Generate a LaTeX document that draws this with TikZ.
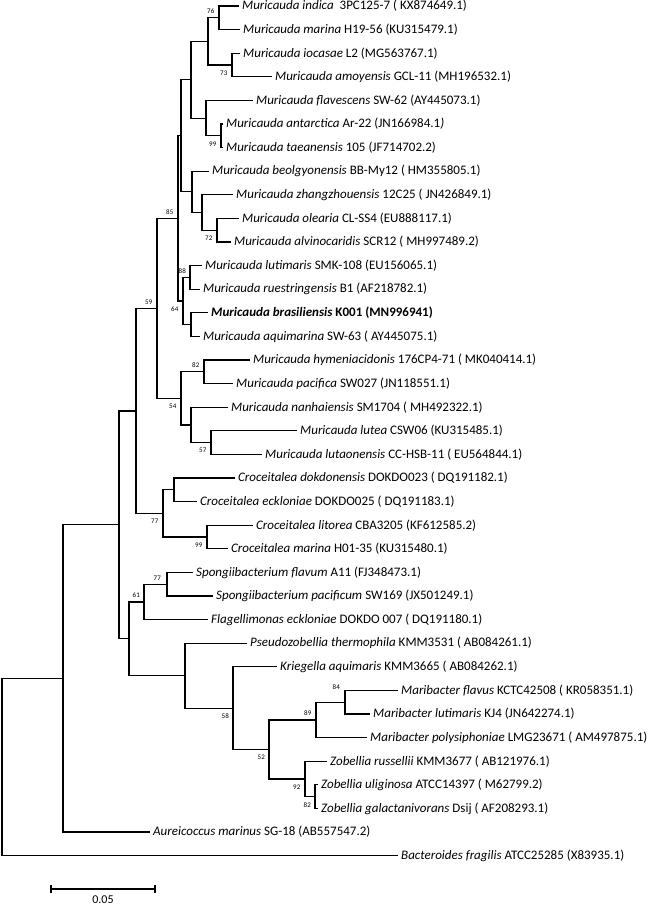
\documentclass[tikz,border=0pt]{standalone}
\usepackage{fontspec}
\setmainfont{Carlito}
\usetikzlibrary{positioning}

\begin{document}
\begin{tikzpicture}[x = 1pt, y = -1pt,
    branch/.style = {line width = 1.2pt},
    taxon/.style = {anchor = west, inner sep = 3pt, font = \fontsize{13}{15}\selectfont},
    boot/.style = {inner sep = 1pt, font = \fontsize{7}{8}\selectfont}]

      \useasboundingbox (0, 0) rectangle (649, 905);

      % taxa, one row every 23.6
      \node[taxon] (t1) at (239, 6) {\textit{Muricauda indica}\ \ 3PC125-7 ( KX874649.1)};
      \node[taxon] (t2) at (240, 29.6) {\textit{Muricauda marina} H19-56 (KU315479.1)};
      \node[taxon] (t3) at (240, 53.2) {\textit{Muricauda iocasae} L2 (MG563767.1)};
      \node[taxon] (t4) at (272, 76.8) {\textit{Muricauda amoyensis} GCL-11 (MH196532.1)};
      \node[taxon] (t5) at (253, 100.4) {\textit{Muricauda flavescens} SW-62 (AY445073.1)};
      \node[taxon] (t6) at (223, 124) {\textit{Muricauda antarctica} Ar-22 (JN166984.1\textit{)}};
      \node[taxon] (t7) at (223, 147.6) {\textit{Muricauda taeanensis} 105 (JF714702.2)};
      \node[taxon] (t8) at (209, 171.2) {\textit{Muricauda beolgyonensis} BB-My12 ( HM355805.1)};
      \node[taxon] (t9) at (233, 194.8) {\textit{Muricauda zhangzhouensis} 12C25 ( JN426849.1)};
      \node[taxon] (t10) at (239, 218.4) {\textit{Muricauda olearia} CL-SS4 (EU888117.1)};
      \node[taxon] (t11) at (231, 242) {\textit{Muricauda alvinocaridis} SCR12 ( MH997489.2)};
      \node[taxon] (t12) at (202, 265.6) {\textit{Muricauda lutimaris} SMK-108 (EU156065.1)};
      \node[taxon] (t13) at (200, 289.2) {\textit{Muricauda ruestringensis} B1 (AF218782.1)};
      \node[taxon] (t14) at (208, 312.8) {\textbf{\textit{Muricauda brasiliensis} K001 (MN996941)}};
      \node[taxon] (t15) at (200, 336.4) {\textit{Muricauda aquimarina} SW-63 ( AY445075.1)};
      \node[taxon] (t16) at (250, 360) {\textit{Muricauda hymeniacidonis} 176CP4-71 ( MK040414.1)};
      \node[taxon] (t17) at (233, 383.6) {\textit{Muricauda pacifica} SW027 (JN118551.1)};
      \node[taxon] (t18) at (228, 407.2) {\textit{Muricauda nanhaiensis} SM1704 ( MH492322.1)};
      \node[taxon] (t19) at (297, 430.8) {\textit{Muricauda lutea} CSW06 (KU315485.1)};
      \node[taxon] (t20) at (262, 454.4) {\textit{Muricauda lutaonensis} CC-HSB-11 ( EU564844.1)};
      \node[taxon] (t21) at (235, 478) {\textit{Croceitalea dokdonensis} DOKDO023 ( DQ191182.1)};
      \node[taxon] (t22) at (197, 501.6) {\textit{Croceitalea eckloniae} DOKDO025 ( DQ191183.1)};
      \node[taxon] (t23) at (253, 525.2) {\textit{Croceitalea litorea} CBA3205 (KF612585.2)};
      \node[taxon] (t24) at (228, 548.8) {\textit{Croceitalea marina} H01-35 (KU315480.1)};
      \node[taxon] (t25) at (193, 572.4) {\textit{Spongiibacterium flavum} A11 (FJ348473.1)};
      \node[taxon] (t26) at (213, 596) {\textit{Spongiibacterium pacificum} SW169 (JX501249.1)};
      \node[taxon] (t27) at (208, 619.6) {\textit{Flagellimonas eckloniae} DOKDO 007 ( DQ191180.1)};
      \node[taxon] (t28) at (247, 643.2) {\textit{Pseudozobellia thermophila} KMM3531 ( AB084261.1)};
      \node[taxon] (t29) at (277, 666.8) {\textit{Kriegella aquimaris} KMM3665 ( AB084262.1)};
      \node[taxon] (t30) at (398, 690.4) {\textit{Maribacter flavus} KCTC42508 ( KR058351.1)};
      \node[taxon] (t31) at (370, 714) {\textit{Maribacter lutimaris} KJ4 (JN642274.1)};
      \node[taxon] (t32) at (367, 737.6) {\textit{Maribacter polysiphoniae} LMG23671 ( AM497875.1)};
      \node[taxon] (t33) at (327, 761.2) {\textit{Zobellia russellii} KMM3677 ( AB121976.1)};
      \node[taxon] (t34) at (318, 784.8) {\textit{Zobellia uliginosa} ATCC14397 ( M62799.2)};
      \node[taxon] (t35) at (318, 808.4) {\textit{Zobellia galactanivorans} Dsij ( AF208293.1)};
      \node[taxon] (t36) at (150, 832) {\textit{Aureicoccus marinus} SG-18 (AB557547.2)};
      \node[taxon] (t37) at (398, 855.6) {\textit{Bacteroides fragilis} ATCC25285 (X83935.1)};

      % inner nodes
      \coordinate (n76) at (219, 17.8);
      \coordinate (n73) at (232, 65);
      \coordinate (nA) at (208, 41.4);
      \coordinate (n99a) at (221, 135.8);
      \coordinate (nB) at (206, 118.1);
      \coordinate (nC) at (191, 79.75);
      \coordinate (n72) at (217, 230.2);
      \coordinate (nD) at (202, 212.5);
      \coordinate (nE) at (192, 191.85);
      \coordinate (nF) at (181, 135.8);
      \coordinate (n88) at (190, 277.4);
      \coordinate (nG) at (191, 324.6);
      \coordinate (n64) at (183, 301);
      \coordinate (n85) at (178, 218.4);
      \coordinate (n82a) at (204, 371.8);
      \coordinate (n57) at (211, 442.6);
      \coordinate (nH) at (191, 424.9);
      \coordinate (n54) at (181, 398.35);
      \coordinate (n59) at (157, 308.4);
      \coordinate (nI) at (174, 489.8);
      \coordinate (n99b) at (207, 537);
      \coordinate (n77a) at (163, 513.4);
      \coordinate (nJ) at (136, 410.9);
      \coordinate (n77b) at (167, 584.2);
      \coordinate (n61) at (144, 601.9);
      \coordinate (n84) at (345, 702.2);
      \coordinate (n89) at (316, 719.9);
      \coordinate (n82b) at (315, 796.6);
      \coordinate (n92) at (305, 778.9);
      \coordinate (n52) at (269, 749.4);
      \coordinate (n58) at (233, 708.1);
      \coordinate (nK) at (185, 675.65);
      \coordinate (nL) at (129, 638.8);
      \coordinate (nM) at (119, 524.8);
      \coordinate (nN) at (63, 678.4);
      \coordinate (root) at (2, 767);

      % branches
      \draw[branch] (n76) |- (t1.west) (n76) |- (t2.west);
      \draw[branch] (n73) |- (t3.west) (n73) |- (t4.west);
      \draw[branch] (nA) |- (n76) (nA) |- (n73);
      \draw[branch] (n99a) |- (t6.west) (n99a) |- (t7.west);
      \draw[branch] (nB) |- (t5.west) (nB) |- (n99a);
      \draw[branch] (nC) |- (nA) (nC) |- (nB);
      \draw[branch] (n72) |- (t10.west) (n72) |- (t11.west);
      \draw[branch] (nD) |- (t9.west) (nD) |- (n72);
      \draw[branch] (nE) |- (t8.west) (nE) |- (nD);
      \draw[branch] (nF) |- (nC) (nF) |- (nE);
      \draw[branch] (n88) |- (t12.west) (n88) |- (t13.west);
      \draw[branch] (nG) |- (t14.west) (nG) |- (t15.west);
      \draw[branch] (n64) |- (n88) (n64) |- (nG);
      \draw[branch] (n85) |- (nF) (n85) |- (n64);
      \draw[branch] (n82a) |- (t16.west) (n82a) |- (t17.west);
      \draw[branch] (n57) |- (t19.west) (n57) |- (t20.west);
      \draw[branch] (nH) |- (t18.west) (nH) |- (n57);
      \draw[branch] (n54) |- (n82a) (n54) |- (nH);
      \draw[branch] (n59) |- (n85) (n59) |- (n54);
      \draw[branch] (nI) |- (t21.west) (nI) |- (t22.west);
      \draw[branch] (n99b) |- (t23.west) (n99b) |- (t24.west);
      \draw[branch] (n77a) |- (nI) (n77a) |- (n99b);
      \draw[branch] (nJ) |- (n59) (nJ) |- (n77a);
      \draw[branch] (n77b) |- (t25.west) (n77b) |- (t26.west);
      \draw[branch] (n61) |- (n77b) (n61) |- (t27.west);
      \draw[branch] (n84) |- (t30.west) (n84) |- (t31.west);
      \draw[branch] (n89) |- (n84) (n89) |- (t32.west);
      \draw[branch] (n82b) |- (t34.west) (n82b) |- (t35.west);
      \draw[branch] (n92) |- (t33.west) (n92) |- (n82b);
      \draw[branch] (n52) |- (n89) (n52) |- (n92);
      \draw[branch] (n58) |- (t29.west) (n58) |- (n52);
      \draw[branch] (nK) |- (t28.west) (nK) |- (n58);
      \draw[branch] (nL) |- (n61) (nL) |- (nK);
      \draw[branch] (nM) |- (nJ) (nM) |- (nL);
      \draw[branch] (nN) |- (nM) (nN) |- (t36.west);
      \draw[branch] (root) |- (nN) (root) |- (t37.west);

      % bootstrap values
      \node[boot, above left = 3pt and 3.5pt] at (n76) {76};
      \node[boot, below left = 4.5pt and 3.5pt] at (n73) {73};
      \node[boot, below left = 4.5pt and 3.5pt] at (n99a) {99};
      \node[boot, below left = 4.5pt and 3.5pt] at (n72) {72};
      \node[boot, above left = 3pt and 3.5pt] at (n85) {85};
      \node[boot, above left = 3pt and 3pt] at (n88) {88};
      \node[boot, below left = 4.5pt and 3.5pt] at (n64) {64};
      \node[boot, above left = 3pt and 3.5pt] at (n59) {59};
      \node[boot, above left = 3pt and 3.5pt] at (n82a) {82};
      \node[boot, below left = 4.5pt and 3.5pt] at (n54) {54};
      \node[boot, below left = 4.5pt and 3.5pt] at (n57) {57};
      \node[boot, below left = 4.5pt and 3.5pt] at (n77a) {77};
      \node[boot, below left = 4.5pt and 3.5pt] at (n99b) {99};
      \node[boot, above left = 3pt and 5pt] at (n77b) {77};
      \node[boot, above left = 3pt and 3pt] at (n61) {61};
      \node[boot, above left = 11pt and 4pt] at (n84) {84};
      \node[boot, above left = 3pt and 3.5pt] at (n89) {89};
      \node[boot, below left = 4.5pt and 3pt] at (n58) {58};
      \node[boot, below left = 4.5pt and 3pt] at (n52) {52};
      \node[boot, below left = 4.5pt and 3.5pt] at (n92) {92};
      \node[boot, below left = 4.5pt and 3pt] at (n82b) {82};

      % scale bar
      \coordinate (bar0) at (51, 889);
      \coordinate (bar1) at (155, 889);
      \draw[branch] (bar0) -- (bar1);
      \draw[branch] ([yshift = 4pt] bar0) -- ([yshift = -4pt] bar0);
      \draw[branch] ([yshift = 4pt] bar1) -- ([yshift = -4pt] bar1);
      \node[font = \fontsize{12}{14}\selectfont, anchor = base] (barlabel) at (103, 903) {0.05};

\end{tikzpicture}
\end{document}
